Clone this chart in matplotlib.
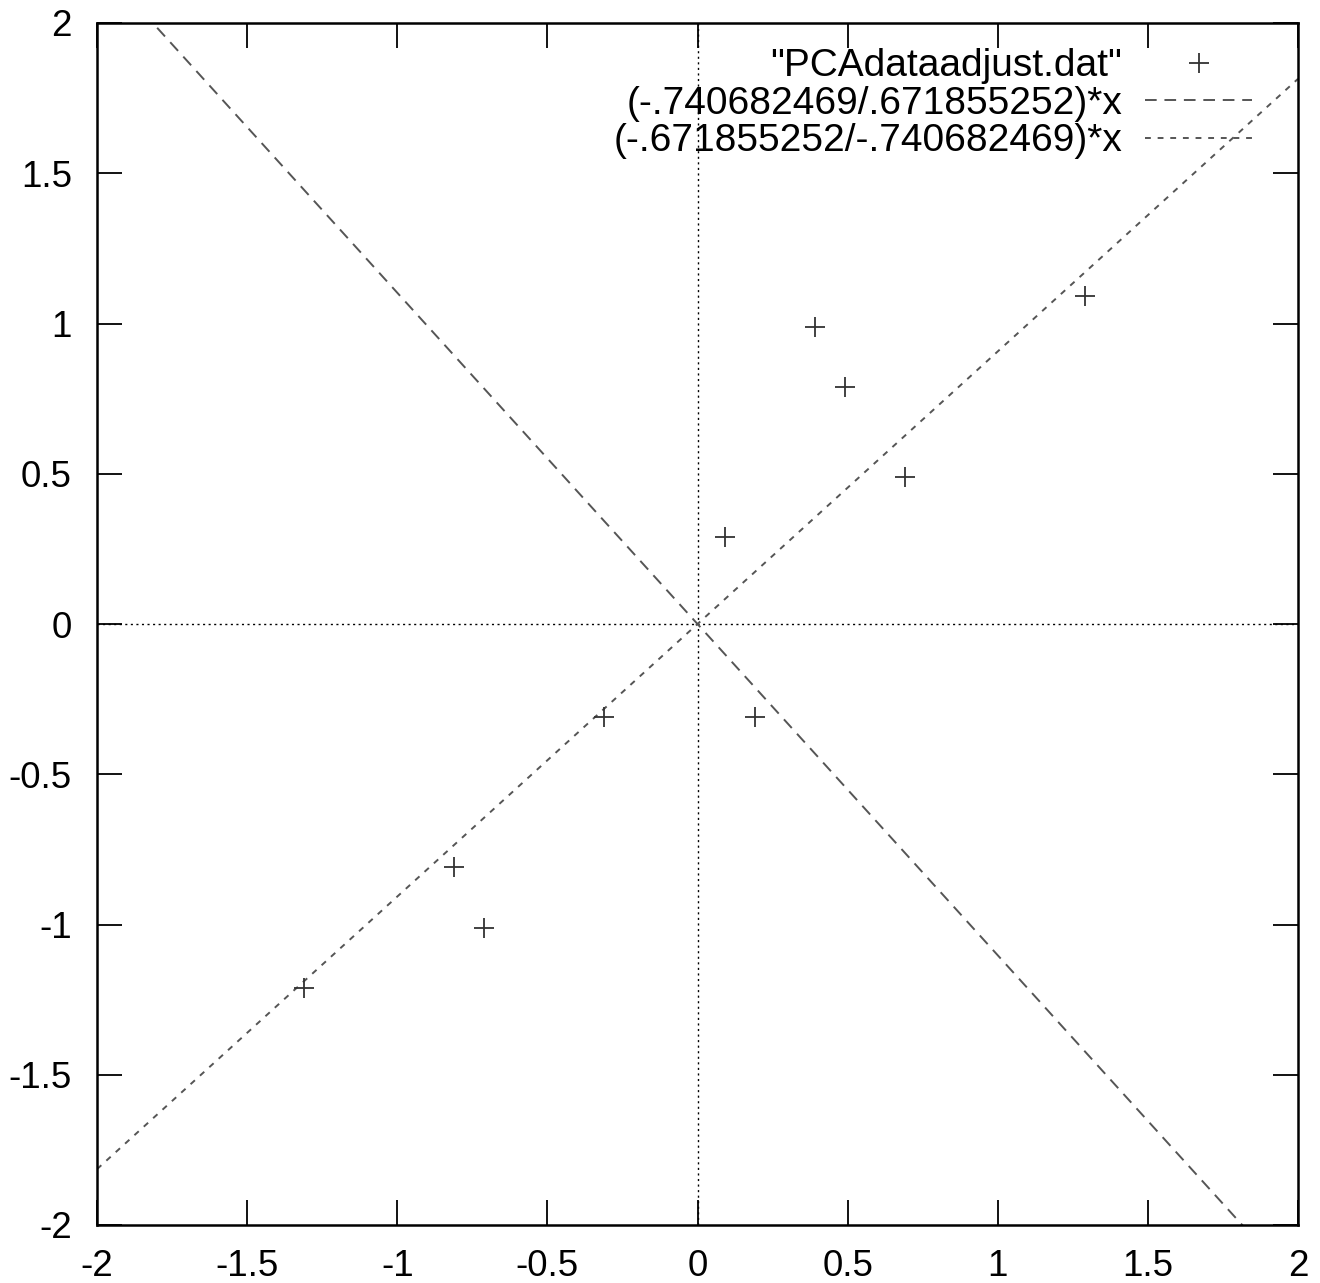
import numpy as np
import matplotlib
matplotlib.use("Agg")
import matplotlib.pyplot as plt

plt.rcParams['font.family'] = ['Liberation Sans', 'DejaVu Sans']

x_data = [0.69, -1.31, 0.39, 0.09, 1.29, 0.49, 0.19, -0.81, -0.31, -0.71]
y_data = [0.49, -1.21, 0.99, 0.29, 1.09, 0.79, -0.31, -0.81, -0.31, -1.01]
slope1 = -0.740682469 / 0.671855252
slope2 = -0.671855252 / -0.740682469
ticks = [-2, -1.5, -1, -0.5, 0, 0.5, 1, 1.5, 2]
tick_labels = ['-2', '-1.5', '-1', '-0.5', '0', '0.5', '1', '1.5', '2']
labels = ['"PCAdataadjust.dat"', '(-.740682469/.671855252)*x', '(-.671855252/-.740682469)*x']

fig = plt.figure(figsize=(13.2, 12.83), dpi=100)
ax = fig.add_axes([97/1320, 1 - 1225/1283, (1298-97)/1320, (1225-23)/1283])
ax.set_xlim(-2, 2)
ax.set_ylim(-2, 2)

# zero axes
ax.axhline(0, color='black', lw=1.0, ls=(0, (1.5, 2.5)), zorder=1)
ax.axvline(0, color='black', lw=1.0, ls=(0, (1.5, 2.5)), zorder=1)

xs = np.linspace(-2, 2, 400)
h0, = ax.plot(x_data, y_data, ls='none', marker='+', ms=15, mew=1.3, color='#333333', zorder=3)
h1, = ax.plot(xs, slope1 * xs, color='#555555', lw=1.4, ls=(0, (6, 4)), zorder=2)
h2, = ax.plot(xs, slope2 * xs, color='#555555', lw=1.4, ls=(0, (3, 3.5)), zorder=2)

ax.set_xticks(ticks)
ax.set_xticklabels(tick_labels)
ax.set_yticks(ticks)
ax.set_yticklabels(tick_labels)
ax.tick_params(direction='in', length=18, width=1.3, top=True, right=True,
               labelsize=26.5, color='black')
ax.tick_params(axis='x', pad=17)
ax.tick_params(axis='y', pad=18)
for s in ax.spines.values():
    s.set_linewidth(1.8)

leg = ax.legend([h0, h1, h2], labels, loc='upper right', frameon=False,
                markerfirst=False, fontsize=28, handlelength=2.75,
                handletextpad=0.6, labelspacing=0.04, borderpad=0.4,
                borderaxespad=0.0, bbox_to_anchor=(0.975, 0.992))
for t in leg.get_texts():
    t.set_ha('right')
leg._legend_box.align = 'right'

fig.savefig('out.png', dpi=100)
